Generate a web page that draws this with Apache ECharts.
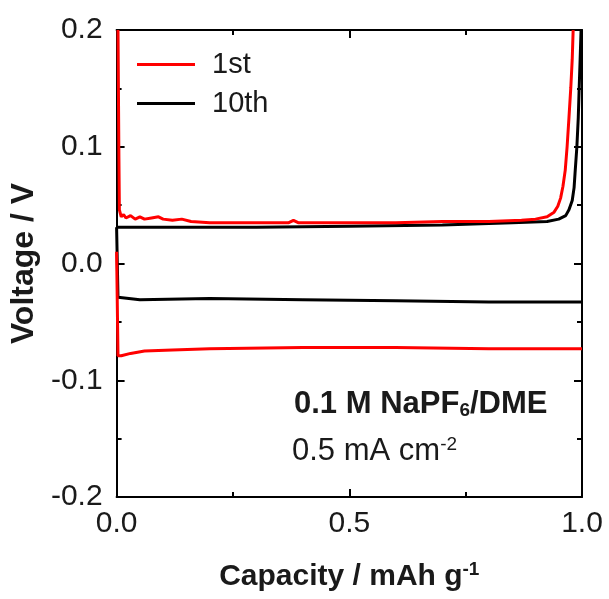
<!DOCTYPE html>
<html>
<head>
<meta charset="utf-8">
<script src="https://cdn.jsdelivr.net/npm/echarts@6/dist/echarts.min.js"></script>
<style>html,body{margin:0;padding:0;background:#fff}#c{width:609px;height:599px}</style>
</head>
<body>
<div id="c"></div>
<script>
// Data
var xTicks = [0.0, 0.5, 1.0];
var yTicks = [-0.2, -0.1, 0.0, 0.1, 0.2];

var red1Strip = [
  [0.003, 0.2], [0.005, 0.09], [0.006, 0.046], [0.01, 0.040], [0.015, 0.042], [0.02, 0.039],
  [0.03, 0.041], [0.04, 0.038], [0.05, 0.040], [0.06, 0.038], [0.075, 0.039], [0.09, 0.040],
  [0.1, 0.038], [0.12, 0.037], [0.14, 0.038], [0.16, 0.036], [0.2, 0.035], [0.3, 0.035],
  [0.37, 0.035], [0.38, 0.037], [0.39, 0.035], [0.5, 0.035], [0.6, 0.035], [0.7, 0.036],
  [0.8, 0.036], [0.87, 0.037], [0.9, 0.038], [0.925, 0.040], [0.94, 0.044], [0.948, 0.049],
  [0.954, 0.056], [0.959, 0.066], [0.964, 0.08], [0.968, 0.1], [0.972, 0.125],
  [0.976, 0.151], [0.979, 0.175], [0.981, 0.2]
];
var red1Plate = [
  [0.0, 0.01], [0.003, -0.079], [0.01, -0.079], [0.03, -0.077], [0.06, -0.075],
  [0.12, -0.074], [0.2, -0.073], [0.4, -0.072], [0.6, -0.072], [0.8, -0.073], [1.0, -0.073]
];
var blk10Strip = [
  [0.0, 0.031], [0.1, 0.031], [0.3, 0.031], [0.5, 0.032], [0.7, 0.033], [0.85, 0.035],
  [0.925, 0.036], [0.95, 0.038], [0.965, 0.041], [0.972, 0.046], [0.979, 0.054],
  [0.983, 0.065], [0.985, 0.077], [0.989, 0.1], [0.992, 0.125], [0.994, 0.151],
  [0.996, 0.175], [0.998, 0.2]
];
var blk10Plate = [
  [0.0, 0.031], [0.003, -0.029], [0.05, -0.031], [0.2, -0.030], [0.4, -0.031],
  [0.6, -0.032], [0.8, -0.033], [1.0, -0.033]
];

var chart = echarts.init(document.getElementById('c'));
var FONT = 'Liberation Sans, Arial, sans-serif';
var TXT = '#1a1a1a';
var axisCommon = {
  type: 'value',
  axisLine: { show: true, onZero: false, lineStyle: { color: '#000', width: 2 } },
  axisTick: { show: true, inside: true, length: 8, lineStyle: { color: '#000', width: 2 } },
  minorTick: { show: true, splitNumber: 2, length: 5, lineStyle: { color: '#000', width: 2 } },
  splitLine: { show: false },
  minorSplitLine: { show: false }
};
function lineSeries(name, data, color, z) {
  return { name: name, type: 'line', data: data, showSymbol: false, symbol: 'none',
    lineStyle: { color: color, width: 3 }, itemStyle: { color: color }, z: z, animation: false };
}
chart.setOption({
  animation: false,
  backgroundColor: '#fff',
  grid: { left: 116, right: 27, top: 30, bottom: 102 },
  legend: {
    data: ['1st', '10th'], orient: 'vertical', left: 132, top: 45, icon: 'rect',
    itemWidth: 58, itemHeight: 3, itemGap: 10,
    textStyle: { fontFamily: FONT, fontSize: 29, color: TXT, padding: [0, 0, 0, 12] }
  },
  xAxis: [
    Object.assign({}, axisCommon, {
      min: 0, max: 1, interval: 0.5, position: 'bottom',
      axisLabel: { fontFamily: FONT, fontSize: 30, color: TXT, margin: 12,
        formatter: function (v) { return v.toFixed(1); } },
      name: 'Capacity / mAh g{sup|-1}', nameLocation: 'middle', nameGap: 63,
      nameTextStyle: { fontFamily: FONT, fontSize: 30, fontWeight: 'bold', color: TXT,
        rich: { sup: { fontFamily: FONT, fontSize: 19, fontWeight: 'bold', color: TXT, verticalAlign: 'top', padding: [0, 0, 14, 0] } } }
    }),
    Object.assign({}, axisCommon, {
      min: 0, max: 1, interval: 0.5, position: 'top', axisLabel: { show: false }
    })
  ],
  yAxis: [
    Object.assign({}, axisCommon, {
      min: -0.2, max: 0.2, interval: 0.1, position: 'left',
      axisLabel: { fontFamily: FONT, fontSize: 30, color: TXT, margin: 14,
        formatter: function (v) { return (Math.abs(v) < 1e-9 ? 0 : v).toFixed(1); } },
      name: 'Voltage / V', nameLocation: 'middle', nameGap: 65, nameRotate: 90,
      nameTextStyle: { fontFamily: FONT, fontSize: 32, fontWeight: 'bold', color: TXT }
    }),
    Object.assign({}, axisCommon, {
      min: -0.2, max: 0.2, interval: 0.1, position: 'right', axisLabel: { show: false }
    })
  ],
  series: [
    lineSeries('10th', blk10Strip, '#000000', 2),
    lineSeries('10th', blk10Plate, '#000000', 2),
    lineSeries('1st', red1Strip, '#ff0000', 3),
    lineSeries('1st', red1Plate, '#ff0000', 3)
  ],
  graphic: [
    { type: 'text', left: 294, top: 389, style: {
        text: '{b|0.1 M NaPF}{bs|6}{b|/DME}',
        rich: {
          b: { fontFamily: FONT, fontSize: 31, fontWeight: 'bold', fill: TXT },
          bs: { fontFamily: FONT, fontSize: 19, fontWeight: 'bold', fill: TXT, verticalAlign: 'bottom', padding: [12, 0, 0, 0] }
        } } },
    { type: 'text', left: 292, top: 435, style: {
        text: '{n|0.5 mA cm}{s|-2}',
        rich: {
          n: { fontFamily: FONT, fontSize: 31, fill: TXT },
          s: { fontFamily: FONT, fontSize: 19, fill: TXT, verticalAlign: 'top', padding: [0, 0, 14, 0] }
        } } }
  ]
});
</script>
</body>
</html>
